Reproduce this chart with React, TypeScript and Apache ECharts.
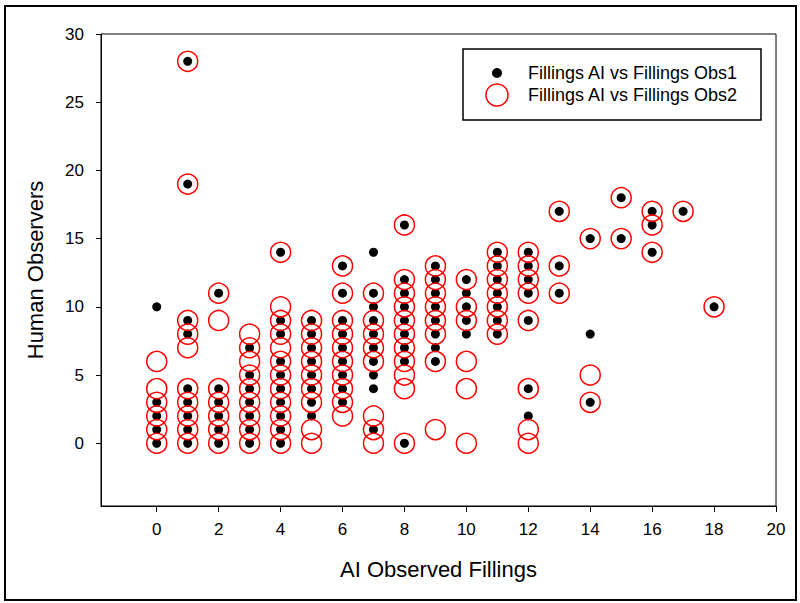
import React, { useEffect, useRef } from "react";
import * as echarts from "echarts";

const seriesNames = ["Fillings AI vs Fillings Obs1", "Fillings AI vs Fillings Obs2"];
const xTicks = [0, 2, 4, 6, 8, 10, 12, 14, 16, 18, 20];
const yTicks = [0, 5, 10, 15, 20, 25, 30];
const xTitle = "AI Observed Fillings";
const yTitle = "Human Observers";

// Human observer values (y) for each AI value x = 0..18 (index = x)
const obs1ByX: number[][] = [
  [10, 3, 2, 1, 0],
  [28, 19, 9, 8, 4, 3, 2, 1, 0],
  [11, 4, 3, 2, 1, 0],
  [7, 5, 4, 3, 2, 1, 0],
  [14, 9, 8, 6, 5, 4, 3, 2, 1, 0],
  [9, 8, 7, 6, 5, 4, 3, 2],
  [13, 11, 9, 8, 7, 6, 5, 4, 3],
  [14, 11, 10, 9, 8, 7, 6, 5, 4, 1],
  [16, 12, 11, 10, 9, 8, 7, 6, 0],
  [13, 12, 11, 10, 9, 8, 7, 6],
  [12, 11, 10, 9, 8],
  [14, 13, 12, 11, 10, 9, 8],
  [14, 13, 12, 11, 9, 4, 2],
  [17, 13, 11],
  [15, 8, 3],
  [18, 15],
  [17, 16, 14],
  [17],
  [10],
];

const obs2ByX: number[][] = [
  [6, 4, 3, 2, 1, 0],
  [28, 19, 9, 8, 7, 4, 3, 2, 1, 0],
  [11, 9, 4, 3, 2, 1, 0],
  [8, 7, 6, 5, 4, 3, 2, 1, 0],
  [14, 10, 9, 8, 7, 6, 5, 4, 3, 2, 1, 0],
  [9, 8, 7, 6, 5, 4, 3, 1, 0],
  [13, 11, 9, 8, 7, 6, 5, 4, 3, 2],
  [11, 9, 8, 7, 6, 2, 1, 0],
  [16, 12, 11, 10, 9, 8, 7, 6, 5, 4, 0],
  [13, 12, 11, 10, 9, 8, 6, 1],
  [12, 10, 9, 6, 4, 0],
  [14, 13, 12, 11, 10, 9, 8],
  [14, 13, 12, 11, 9, 4, 1, 0],
  [17, 13, 11],
  [15, 5, 3],
  [18, 15],
  [17, 16, 14],
  [17],
  [10],
];

const toPairs = (cols: number[][]) =>
  cols.flatMap((ys, x) => ys.map((y) => [x, y]));

const FONT = '"Liberation Sans", Arial, sans-serif';

export default function App() {
  const ref = useRef<HTMLDivElement>(null);
  useEffect(() => {
    if (!ref.current) return;
    const chart = echarts.init(ref.current, null, { renderer: "svg" });
    const legendX = 463;
    const legendY = 49;
    chart.setOption({
      animation: false,
      backgroundColor: "#fff",
      textStyle: { fontFamily: FONT },
      grid: {
        left: 101,
        right: 24,
        top: 34,
        bottom: 97,
        show: true,
        borderColor: "#000",
        borderWidth: 1,
        backgroundColor: "transparent",
      },
      xAxis: {
        type: "value",
        min: -1.8,
        max: 20,
        splitLine: { show: false },
        axisLine: { show: true, onZero: false, lineStyle: { color: "#000", width: 1 } },
        axisTick: { show: true, customValues: xTicks, length: 6, lineStyle: { color: "#000" } },
        axisLabel: { customValues: xTicks, margin: 15, fontSize: 17, color: "#000", fontFamily: FONT },
        name: xTitle,
        nameLocation: "middle",
        nameGap: 52,
        nameTextStyle: { fontSize: 22, color: "#000", fontFamily: FONT },
      },
      yAxis: {
        type: "value",
        min: -4.6,
        max: 30,
        splitLine: { show: false },
        axisLine: { show: true, onZero: false, lineStyle: { color: "#000", width: 1 } },
        axisTick: { show: true, customValues: yTicks, length: 5, lineStyle: { color: "#000" } },
        axisLabel: { customValues: yTicks, margin: 17, fontSize: 17, color: "#000", fontFamily: FONT },
        name: yTitle,
        nameLocation: "middle",
        nameGap: 55,
        nameRotate: 90,
        nameTextStyle: { fontSize: 22, color: "#000", fontFamily: FONT },
      },
      series: [
        {
          type: "scatter",
          name: seriesNames[0],
          data: toPairs(obs1ByX),
          symbol: "circle",
          symbolSize: 9,
          itemStyle: { color: "#000", opacity: 1 },
          z: 2,
        },
        {
          type: "scatter",
          name: seriesNames[1],
          data: toPairs(obs2ByX),
          symbol: "circle",
          symbolSize: 20,
          itemStyle: { color: "rgba(0,0,0,0)", borderColor: "#ff0000", borderWidth: 1.5, opacity: 1 },
          z: 3,
        },
      ],
      graphic: [
        {
          type: "rect",
          shape: { x: 5, y: 6, width: 791, height: 594 },
          style: { fill: "none", stroke: "#000", lineWidth: 2 },
          silent: true,
        },
        {
          type: "rect",
          shape: { x: legendX, y: legendY, width: 298, height: 71 },
          style: { fill: "#fff", stroke: "#000", lineWidth: 1.5 },
          z: 10,
        },
        {
          type: "circle",
          shape: { cx: legendX + 34, cy: legendY + 24, r: 5 },
          style: { fill: "#000" },
          z: 11,
        },
        {
          type: "circle",
          shape: { cx: legendX + 34, cy: legendY + 46, r: 11 },
          style: { fill: "none", stroke: "#ff0000", lineWidth: 1.5 },
          z: 11,
        },
        {
          type: "text",
          x: legendX + 65,
          y: legendY + 24,
          style: { text: seriesNames[0], fontSize: 18, fontFamily: FONT, fill: "#000", verticalAlign: "middle" },
          z: 11,
        },
        {
          type: "text",
          x: legendX + 65,
          y: legendY + 46,
          style: { text: seriesNames[1], fontSize: 18, fontFamily: FONT, fill: "#000", verticalAlign: "middle" },
          z: 11,
        },
      ],
    });
    return () => chart.dispose();
  }, []);
  return (
    <div
      ref={ref}
      style={{ position: "fixed", left: 0, top: 0, width: 800, height: 603, background: "#fff" }}
    />
  );
}
